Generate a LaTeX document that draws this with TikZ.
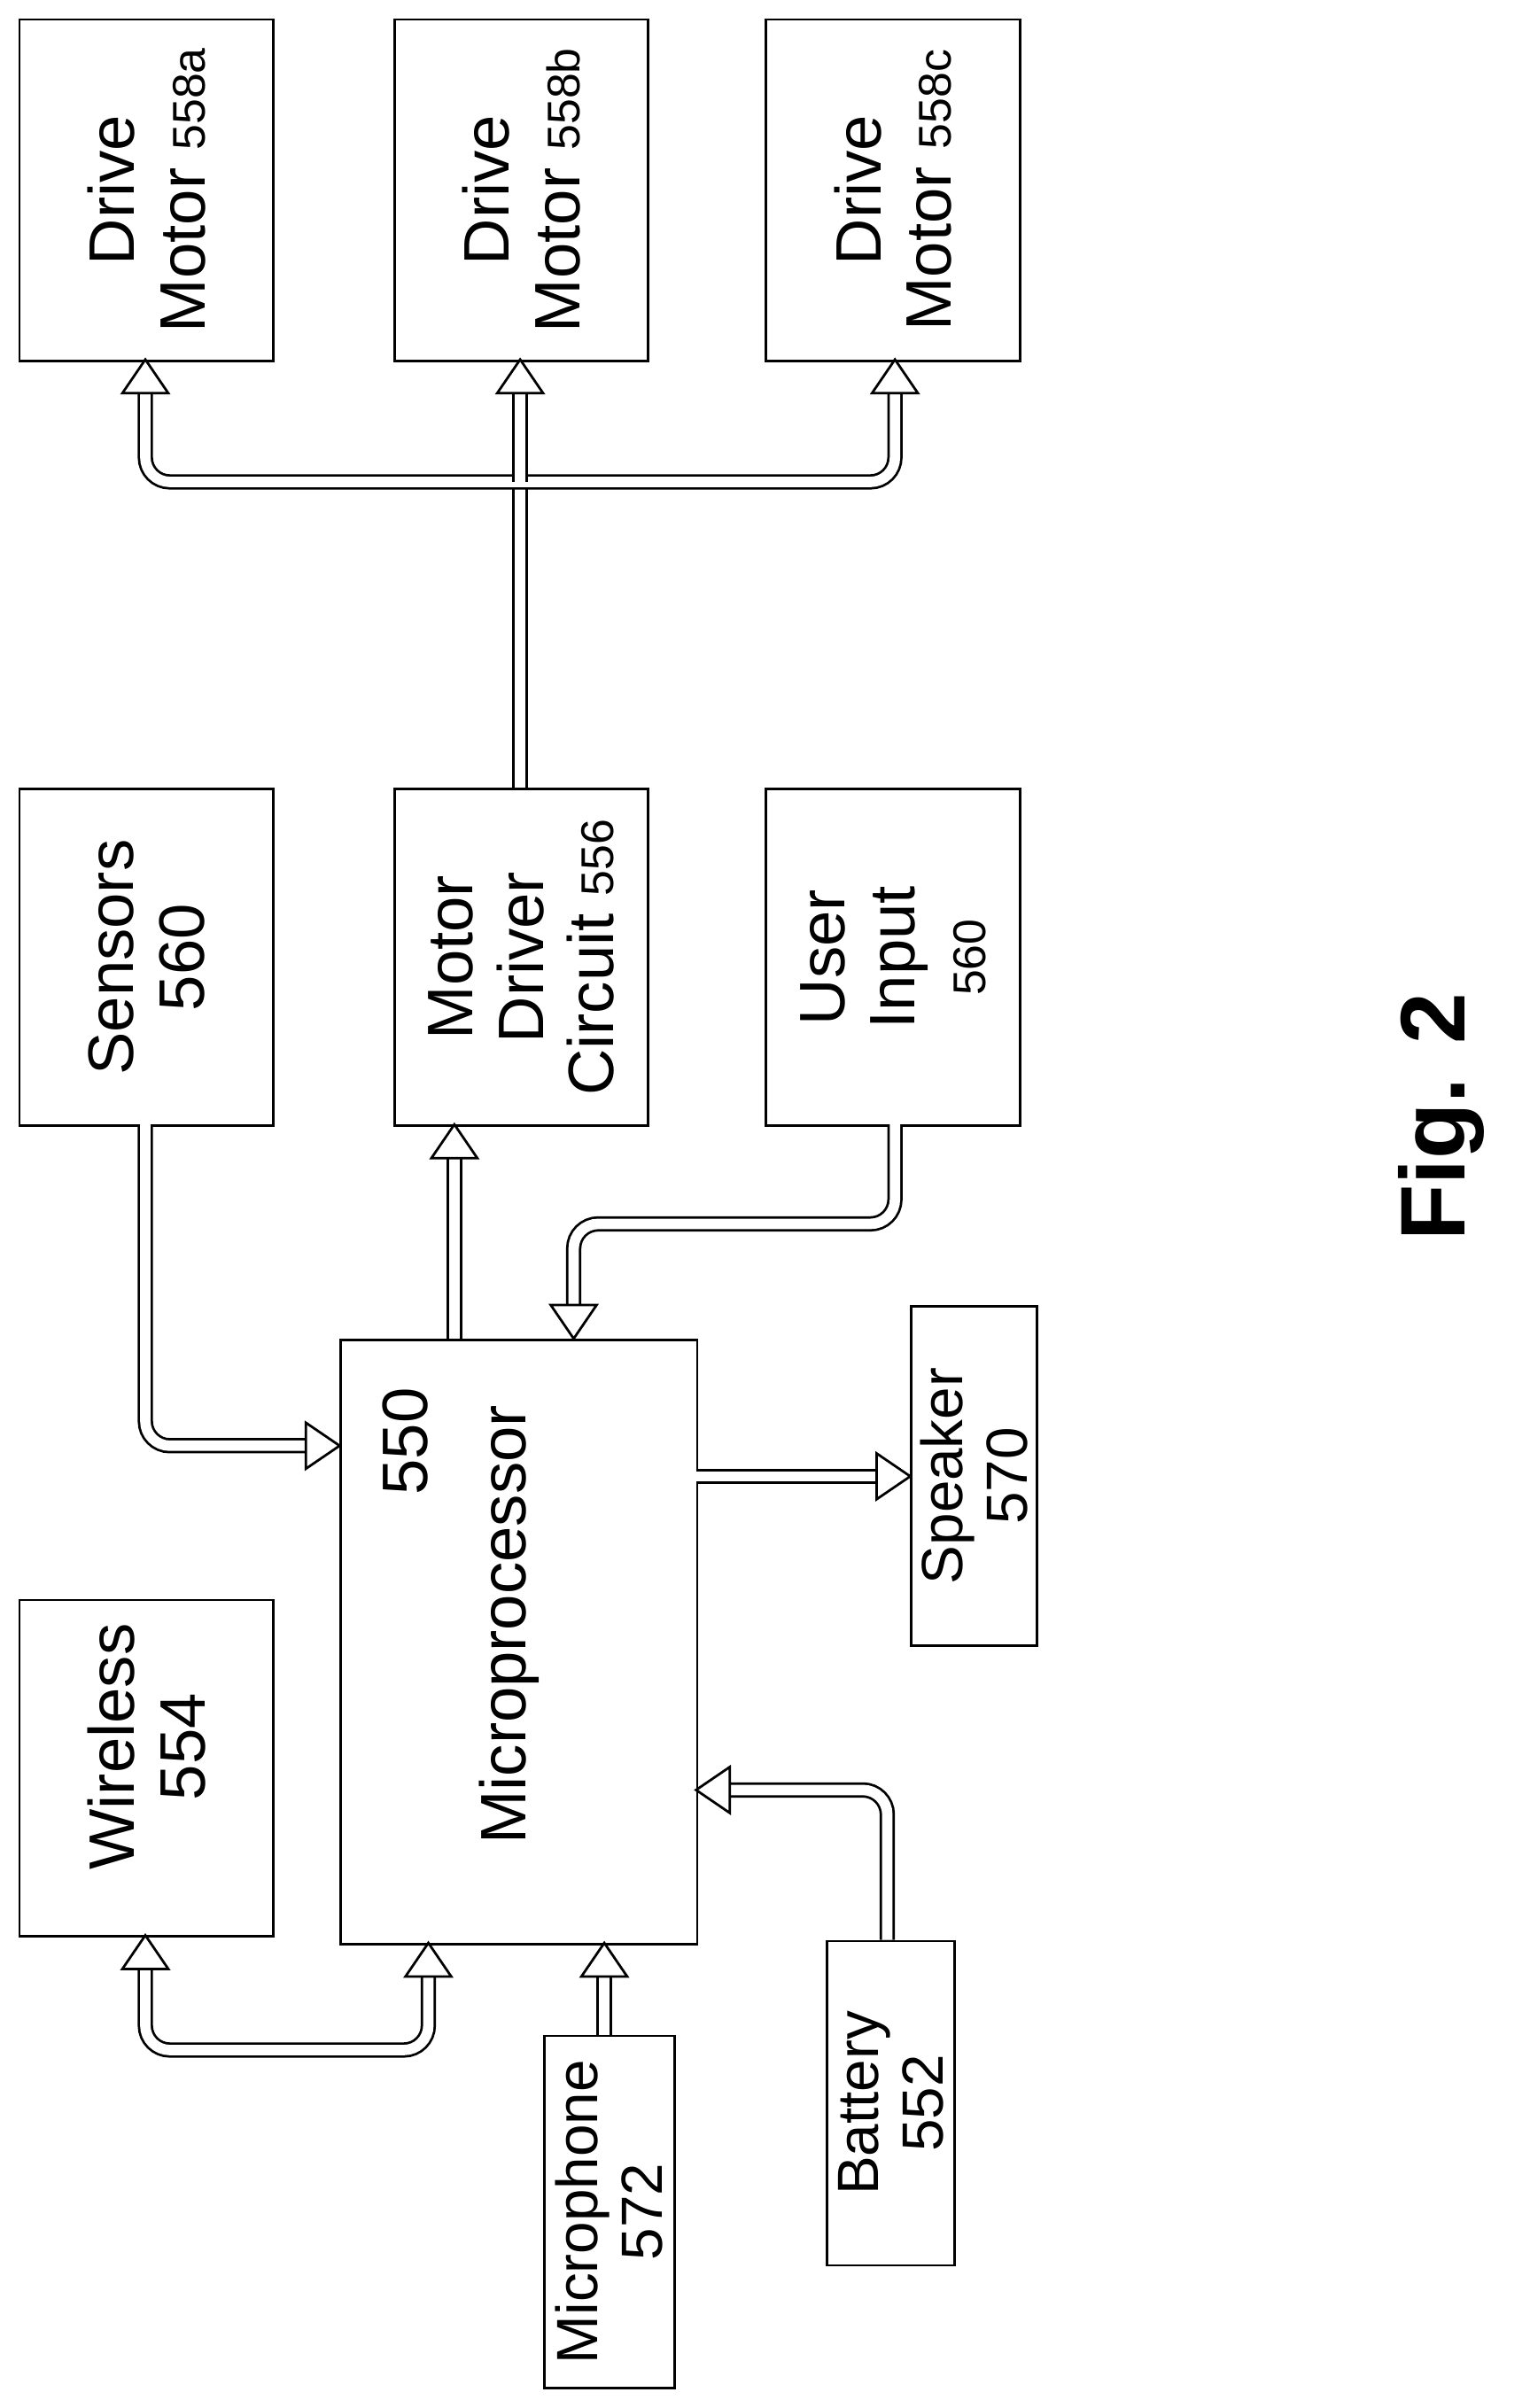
\documentclass[tikz,border=0pt]{standalone}
\usepackage{fontspec}
\setmainfont{Liberation Sans}
\newcommand\smf{\fontsize{15}{17}\selectfont}
\begin{document}
\begin{tikzpicture}[x=0.5pt,y=-0.5pt,
 box/.style={draw,line width=0.8pt,inner sep=0pt,anchor=north west},
 lbl/.style={rotate=90,align=center,font=\fontsize{21}{23}\selectfont},
 pipe/.style={line width=5pt,rounded corners=8pt,postaction={draw=white,line width=3.4pt,rounded corners=8pt}},
 tip/.style={fill=white,draw,line width=0.8pt,line join=miter}]
\useasboundingbox (0,0) rectangle (1000,1574);
\newcommand\hU[2]{\filldraw[tip] (#1,#2)--(#1-15,#2+22)--(#1+15,#2+22)--cycle;}
\newcommand\hD[2]{\filldraw[tip] (#1,#2)--(#1-15,#2-22)--(#1+15,#2-22)--cycle;}
\newcommand\hR[2]{\filldraw[tip] (#1,#2)--(#1-22,#2-15)--(#1-22,#2+15)--cycle;}
% boxes (sizes in pt = half of unit values)
\node[box,minimum width=83pt,minimum height=111.5pt] (ma) at (12,12) {};
\node[box,minimum width=83pt,minimum height=111.5pt] (mb) at (257,12) {};
\node[box,minimum width=83pt,minimum height=111.5pt] (mc) at (500,12) {};
\node[box,minimum width=83pt,minimum height=110pt] (sen) at (12,515) {};
\node[box,minimum width=83pt,minimum height=110pt] (mdc) at (257,515) {};
\node[box,minimum width=83pt,minimum height=110pt] (ui) at (500,515) {};
\node[box,minimum width=83pt,minimum height=110pt] (wl) at (12,1045) {};
\node[box,minimum width=116.5pt,minimum height=197.5pt] (mp) at (222,875) {};
\node[box,minimum width=41pt,minimum height=111pt] (spk) at (595,853) {};
\node[box,minimum width=42.5pt,minimum height=115pt] (mic) at (355,1330) {};
\node[box,minimum width=41.5pt,minimum height=106pt] (bat) at (540,1268) {};
% labels
\node[lbl] at (ma.center) {Drive\\Motor {\smf 558a}};
\node[lbl] at (mb.center) {Drive\\Motor {\smf 558b}};
\node[lbl] at (mc.center) {Drive\\Motor {\smf 558c}};
\node[lbl] at (sen.center) {Sensors\\560};
\node[lbl] at (mdc.center) {Motor\\Driver\\Circuit {\smf 556}};
\node[lbl] at (ui.center) {User\\Input\\{\smf 560}};
\node[lbl] at ([yshift=7pt]wl.center) {Wireless\\554};
\node[lbl,anchor=east] (n550) at (265,900) {550};
\node[lbl] at (333,1062) {Microprocessor};
\node[lbl,font=\fontsize{19}{21}\selectfont] at (spk.center) {Speaker\\570};
\node[lbl,font=\fontsize{19}{21}\selectfont] at (mic.center) {Microphone\\572};
\node[lbl,font=\fontsize{19}{21}\selectfont] at (bat.center) {Battery\\552};
\node[rotate=90,font=\bfseries\fontsize{30}{32}\selectfont] (fig) at (942,730) {Fig. 2};
% connectors
\draw[pipe] (340,515) -- (340,315);
\draw[pipe] (95,257) -- (95,315) -- (585,315) -- (585,257);
\draw[pipe] (340,315) -- (340,257);
\hU{95}{235}\hU{340}{235}\hU{585}{235}
\draw[pipe] (95,735) -- (95,945) -- (200,945);
\hR{222}{945}
\draw[pipe] (297,875) -- (297,757);
\hU{297}{735}
\draw[pipe] (585,735) -- (585,800) -- (375,800) -- (375,853);
\hD{375}{875}
\draw[pipe] (455,965) -- (573,965);
\hR{595}{965}
\draw[pipe] (580,1268) -- (580,1170) -- (477,1170);
\filldraw[tip] (455,1170)--(477,1155)--(477,1185)--cycle;
\draw[pipe] (395,1330) -- (395,1292);
\hU{395}{1270}
\draw[pipe] (95,1287) -- (95,1340) -- (280,1340) -- (280,1292);
\hU{95}{1265}\hU{280}{1270}
\end{tikzpicture}
\end{document}
